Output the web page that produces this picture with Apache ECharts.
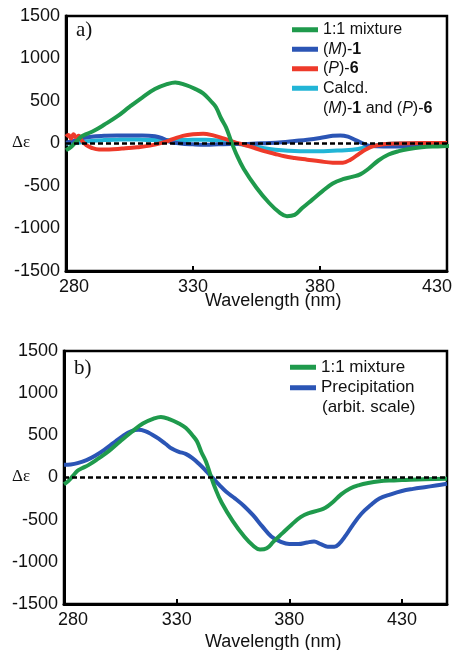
<!DOCTYPE html>
<html>
<head>
<meta charset="utf-8">
<script src="https://cdn.jsdelivr.net/npm/echarts@6/dist/echarts.min.js"></script>
<style>
html,body{margin:0;padding:0;background:#fff;}
#c{width:455px;height:650px;}
</style>
</head>
<body>
<div id="c"></div>
<script>
// ---- Data ----
// 1:1 mixture (both panels)
const mixWl  = [280,282,284,286,288,291,295,300,305,310,315,320,323,327,331,334,337,339,341,343,345,347,350,355,360,364,367,370,373,377,381,385,389,393,396,399,403,407,411,415,420,425,430,440,450];
const mixVal = [-80,-40,20,80,110,150,220,315,430,540,640,700,718,690,640,590,500,430,300,190,30,-120,-300,-520,-700,-810,-855,-840,-760,-660,-560,-470,-420,-390,-360,-300,-200,-130,-90,-65,-45,-35,-30,-20,-15];
// (M)-1
const m1Wl  = [280,283,286,290,295,300,305,310,315,318,321,325,330,335,340,345,350,355,360,365,370,375,380,385,388,391,394,397,400,405,410,415,420,425,430];
const m1Val = [10,30,60,80,90,95,95,95,85,60,20,0,-10,-15,-10,-5,-5,0,5,15,30,45,65,90,95,80,40,0,-30,-35,-35,-30,-20,-10,-5];
// (P)-6
const p6Wl  = [280,281,282,283,284,285,286,288,290,293,297,302,308,313,318,322,326,330,334,338,342,346,350,354,358,362,366,370,375,380,385,389,392,395,398,401,405,410,420,430];
const p6Val = [80,100,60,110,70,90,40,-20,-50,-70,-70,-60,-45,-25,10,50,90,110,115,95,60,20,-15,-50,-90,-120,-150,-170,-190,-210,-225,-225,-190,-130,-70,-30,-10,0,5,5];
// Calcd. (M)-1 and (P)-6
const calcWl  = [280,285,290,295,300,305,310,315,320,325,330,335,340,344,348,352,356,360,365,370,375,380,385,390,395,398,402,406,410,430];
const calcVal = [0,10,30,40,45,48,45,40,40,40,45,45,35,15,-5,-25,-45,-65,-80,-88,-90,-90,-85,-80,-65,-45,-20,-5,0,0];
// Precipitation (arbit. scale)
const precWl  = [280,283,286,290,294,298,302,306,310,313,316,319,322,325,328,331,334,337,340,343,346,349,352,356,360,364,368,372,376,380,384,388,391,394,397,400,402,405,408,412,416,420,425,430,435,440,445,450];
const precVal = [150,155,170,205,260,330,410,490,550,565,550,510,460,400,340,305,280,230,160,80,-5,-90,-170,-250,-340,-450,-580,-700,-760,-790,-790,-770,-760,-790,-820,-820,-790,-690,-570,-430,-330,-250,-200,-160,-135,-115,-95,-75];

const yTicks = [-1500,-1000,-500,0,500,1000,1500];
const xTicksA = [280,330,380,430];
const xTicksB = [280,330,380,430];

// ---- Chart ----
const zip = (a,b) => a.map((x,i)=>[x,b[i]]);
const SANS = '"Liberation Sans", Arial, sans-serif';
const SERIF = '"Liberation Serif", "Times New Roman", serif';
const C = {green:'#1f9a4c', blue:'#2b55b5', red:'#ee3a2a', cyan:'#22b5d6'};

const rich = {
  it:{fontStyle:'italic', fontSize:16, fontFamily:SANS, color:'#111', lineHeight:19.5},
  b:{fontWeight:'bold', fontSize:16, fontFamily:SANS, color:'#111', lineHeight:19.5},
  n:{fontSize:16, fontFamily:SANS, color:'#111', lineHeight:19.5}
};
const legendFmt = name => {
  if (name === '(M)-1') return '{n|(}{it|M}{n|)-}{b|1}';
  if (name === '(P)-6') return '{n|(}{it|P}{n|)-}{b|6}';
  return '{n|' + name + '}';
};

function xAxisDef(gi, min, max, ticks, shiftL, shiftR) {
  return {
    type:'value', gridIndex:gi, min:min, max:max, interval:50,
    axisLine:{show:true, onZero:false, lineStyle:{color:'#000', width:3}},
    axisTick:{show:true, inside:true, length:5, lineStyle:{color:'#000', width:2}},
    splitLine:{show:false},
    axisLabel:{
      margin:7, fontSize:18, fontFamily:SANS, color:'#111',
      showMaxLabel: max === 430,
      formatter: v => {
        if (ticks.indexOf(v) < 0) return '';
        if (v === 280) return '{l|280}';
        if (v === 430 && shiftR) return '{r|430}';
        return String(v);
      },
      rich:{
        l:{padding:[0,0,0,shiftL], fontSize:18, fontFamily:SANS, color:'#111'},
        r:{padding:[0,shiftR,0,0], fontSize:18, fontFamily:SANS, color:'#111'}
      }
    }
  };
}
function yAxisDef(gi) {
  return {
    type:'value', gridIndex:gi, min:-1500, max:1500, interval:500,
    axisLine:{show:true, lineStyle:{color:'#000', width:3}},
    axisTick:{show:false},
    splitLine:{show:false},
    axisLabel:{margin:6, fontSize:18, fontFamily:SANS, color:'#111',
      formatter: v => yTicks.indexOf(v) >= 0 ? String(v) : ''}
  };
}
const zeroLine = {
  silent:true, symbol:'none', label:{show:false}, animation:false,
  lineStyle:{color:'#000', type:[5,3], width:2.5},
  data:[{yAxis:0}]
};
function lineSeries(name, data, color, xi, withZero) {
  const s = {
    name:name, type:'line', xAxisIndex:xi, yAxisIndex:xi,
    data:data, showSymbol:false, smooth:0.4,
    lineStyle:{color:color, width:4}, itemStyle:{color:color},
    clip:true
  };
  if (withZero) s.markLine = zeroLine;
  return s;
}

const chart = echarts.init(document.getElementById('c'), null, {renderer:'canvas'});
chart.setOption({
  animation:false,
  backgroundColor:'#fff',
  grid:[
    {left:66, top:16, width:381, height:255, show:true, borderColor:'#000', borderWidth:2.5, backgroundColor:'transparent'},
    {left:64, top:351, width:383, height:253, show:true, borderColor:'#000', borderWidth:2.5, backgroundColor:'transparent'}
  ],
  xAxis:[ xAxisDef(0, 280, 430, xTicksA, 16, 20), xAxisDef(1, 280, 450, xTicksB, 18, 0) ],
  yAxis:[ yAxisDef(0), yAxisDef(1) ],
  legend:[
    {
      data:['1:1 mixture','(M)-1','(P)-6','Calcd.'],
      orient:'vertical', left:292, top:20, itemGap:0, itemWidth:26, itemHeight:5, icon:'rect',
      padding:0, selectedMode:false,
      formatter:legendFmt,
      textStyle:{fontSize:16, fontFamily:SANS, color:'#111', lineHeight:19.5, rich:rich}
    },
    {
      data:[{name:'1:1 mixture '}, {name:'Precipitation'}],
      orient:'vertical', left:290, top:357, itemGap:0, itemWidth:26, itemHeight:5, icon:'rect',
      padding:0, selectedMode:false,
      formatter: n => n.trim(),
      textStyle:{fontSize:17, fontFamily:SANS, color:'#111', lineHeight:20.5}
    }
  ],
  series:[
    lineSeries('Calcd.', zip(calcWl, calcVal), C.cyan, 0, false),
    lineSeries('(M)-1', zip(m1Wl, m1Val), C.blue, 0, false),
    lineSeries('(P)-6', zip(p6Wl, p6Val), C.red, 0, false),
    lineSeries('1:1 mixture', zip(mixWl, mixVal), C.green, 0, true),
    lineSeries('Precipitation', zip(precWl, precVal), C.blue, 1, false),
    lineSeries('1:1 mixture ', zip(mixWl, mixVal), C.green, 1, true)
  ],
  graphic:[
    {type:'text', left:76, top:20, style:{text:'a)', font:'21px ' + SERIF, fill:'#111'}},
    {type:'text', left:74, top:358, style:{text:'b)', font:'21px ' + SERIF, fill:'#111'}},
    {type:'text', left:12, top:134, style:{text:'Δε', font:'17px ' + SERIF, fill:'#111'}},
    {type:'text', left:12, top:468, style:{text:'Δε', font:'17px ' + SERIF, fill:'#111'}},
    {type:'text', left:205, top:292, style:{text:'Wavelength (nm)', font:'18px ' + SANS, fill:'#111'}},
    {type:'text', left:205, top:633, style:{text:'Wavelength (nm)', font:'18px ' + SANS, fill:'#111'}},
    {type:'text', left:323, top:101, style:{
      text:'{n|(}{it|M}{n|)-}{b|1}{n| and (}{it|P}{n|)-}{b|6}', rich:rich, fill:'#111'}},
    {type:'text', left:322, top:399, style:{text:'(arbit. scale)', font:'17px ' + SANS, fill:'#111'}}
  ]
});
</script>
</body>
</html>
